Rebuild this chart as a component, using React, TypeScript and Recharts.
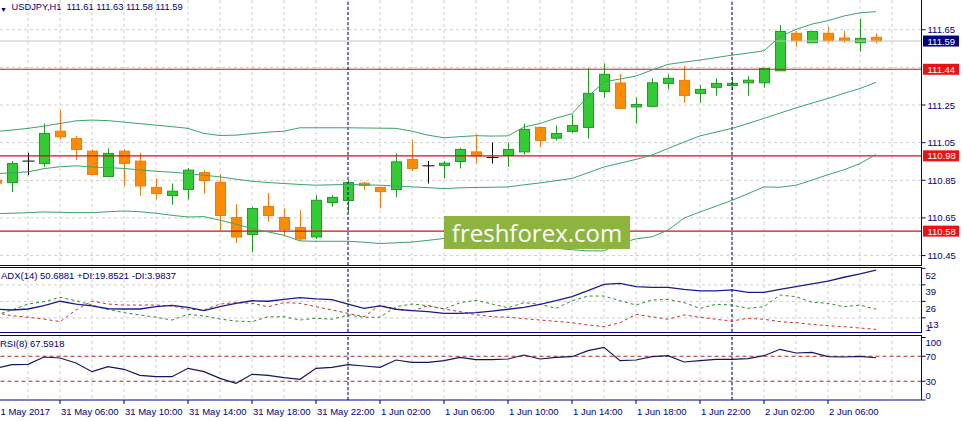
import { ComposedChart, Bar, Line, XAxis, YAxis, CartesianGrid, ReferenceLine } from "recharts";

// USDJPY H1, 31 May 02:00 .. 2 Jun 09:00 (one entry per hour)
const opens = [
  110.85, 110.838, 110.952, 110.939, 111.111, 111.072, 111.005, 110.87, 111.005, 110.952,
  110.812, 110.769, 110.801, 110.891, 110.838, 110.652, 110.562, 110.711, 110.652, 110.599,
  110.549, 110.732, 110.743, 110.835, 110.812, 110.801, 110.961, 110.927, 110.929, 110.95,
  111.001, 110.971, 110.982, 111.001, 111.131, 111.074, 111.11, 111.131, 111.322, 111.367,
  111.24, 111.243, 111.365, 111.381, 111.312, 111.344, 111.354, 111.368, 111.368, 111.432,
  111.631, 111.581, 111.631, 111.606, 111.581, 111.61,
];
const highs = [
  110.86, 110.952, 110.996, 111.152, 111.223, 111.085, 111.014, 111.019, 111.016, 110.996,
  110.86, 110.833, 110.916, 110.904, 110.882, 110.723, 110.709, 110.783, 110.7, 110.691,
  110.771, 110.771, 110.851, 110.842, 110.815, 110.993, 111.063, 110.953, 110.953, 111.022,
  111.094, 111.051, 111.051, 111.152, 111.134, 111.141, 111.2, 111.445, 111.471, 111.414,
  111.29, 111.392, 111.414, 111.457, 111.356, 111.392, 111.4, 111.404, 111.446, 111.675,
  111.643, 111.643, 111.666, 111.643, 111.707, 111.63,
];
const lows = [
  110.82, 110.788, 110.877, 110.921, 111.07, 110.957, 110.877, 110.867, 110.82, 110.767,
  110.748, 110.721, 110.748, 110.78, 110.585, 110.517, 110.469, 110.629, 110.553, 110.528,
  110.538, 110.709, 110.679, 110.801, 110.7, 110.759, 110.9, 110.833, 110.86, 110.913,
  110.939, 110.939, 110.921, 110.987, 111.028, 111.062, 111.102, 111.072, 111.29, 111.228,
  111.152, 111.239, 111.333, 111.262, 111.262, 111.299, 111.329, 111.299, 111.342, 111.432,
  111.56, 111.579, 111.581, 111.581, 111.533, 111.58,
];
const closes = [
  110.835, 110.939, 110.952, 111.099, 111.081, 111.014, 110.881, 110.993, 110.939, 110.82,
  110.78, 110.792, 110.904, 110.849, 110.663, 110.549, 110.7, 110.663, 110.588, 110.538,
  110.744, 110.759, 110.838, 110.822, 110.79, 110.948, 110.913, 110.927, 110.941, 111.014,
  110.98, 110.971, 111.014, 111.12, 111.062, 111.099, 111.141, 111.312, 111.413, 111.232,
  111.253, 111.368, 111.392, 111.301, 111.333, 111.365, 111.365, 111.382, 111.445, 111.641,
  111.591, 111.641, 111.591, 111.591, 111.604, 111.59,
];

const bbUpper = [
  111.109, 111.117, 111.126, 111.138, 111.152, 111.166, 111.17, 111.167, 111.159, 111.151,
  111.143, 111.135, 111.126, 111.099, 111.088, 111.09, 111.098, 111.106, 111.111, 111.129,
  111.129, 111.129, 111.129, 111.128, 111.127, 111.126, 111.111, 111.09, 111.076, 111.082,
  111.087, 111.085, 111.086, 111.133, 111.152, 111.18, 111.204, 111.294, 111.373, 111.388,
  111.404, 111.436, 111.466, 111.478, 111.489, 111.502, 111.515, 111.526, 111.538, 111.613,
  111.652, 111.68, 111.698, 111.723, 111.74, 111.746,
];
const bbMiddle = [
  110.885, 110.89, 110.895, 110.912, 110.922, 110.927, 110.921, 110.917, 110.913, 110.905,
  110.898, 110.893, 110.886, 110.877, 110.868, 110.856, 110.845, 110.838, 110.833, 110.828,
  110.824, 110.826, 110.828, 110.826, 110.824, 110.819, 110.815, 110.811, 110.806, 110.81,
  110.812, 110.813, 110.815, 110.826, 110.836, 110.848, 110.86, 110.89, 110.921, 110.941,
  110.961, 110.984, 111.019, 111.053, 111.086, 111.106, 111.126, 111.152, 111.179, 111.207,
  111.235, 111.26, 111.285, 111.312, 111.338, 111.37,
];
const bbLower = [
  110.673, 110.675, 110.678, 110.682, 110.68, 110.678, 110.678, 110.683, 110.687, 110.683,
  110.675, 110.664, 110.655, 110.657, 110.638, 110.617, 110.594, 110.576, 110.558, 110.528,
  110.526, 110.526, 110.526, 110.521, 110.514, 110.518, 110.522, 110.531, 110.541, 110.531,
  110.521, 110.51, 110.505, 110.5, 110.494, 110.489, 110.481, 110.475, 110.475, 110.515,
  110.539, 110.55, 110.585, 110.649, 110.682, 110.712, 110.744, 110.779, 110.815, 110.813,
  110.824, 110.851, 110.88, 110.906, 110.939, 110.987,
];

const adxValues = [
  19.8, 19.2, 20.0, 22.6, 26.1, 23.9, 22.4, 20.2, 20.0, 20.0,
  21.8, 22.9, 21.3, 18.7, 21.8, 24.5, 26.5, 26.1, 27.6, 28.9,
  27.9, 27.3, 23.9, 20.5, 22.4, 19.8, 18.7, 17.9, 16.6, 16.6,
  17.1, 18.4, 19.8, 21.3, 23.7, 26.5, 29.7, 34.4, 39.4, 40.2,
  37.6, 37.1, 37.1, 35.5, 34.2, 34.2, 35.0, 33.1, 33.1, 35.5,
  37.6, 39.7, 42.0, 45.0, 47.6, 50.69,
];
const plusDiValues = [
  15.3, 19.2, 23.9, 25.7, 29.2, 26.5, 23.1, 19.8, 17.1, 15.3,
  13.5, 11.3, 15.8, 14.5, 12.1, 10.5, 10.0, 13.9, 13.9, 11.3,
  12.7, 11.9, 15.3, 13.5, 13.5, 21.8, 23.9, 22.6, 20.0, 25.0,
  26.8, 23.9, 21.0, 25.0, 23.7, 20.5, 26.5, 30.2, 30.2, 26.5,
  23.1, 27.1, 27.6, 25.0, 20.5, 23.7, 23.1, 20.5, 21.8, 31.0,
  29.7, 25.3, 24.5, 21.8, 23.1, 19.85,
];
const minusDiValues = [
  17.1, 14.7, 13.5, 12.1, 10.0, 19.2, 26.3, 23.9, 23.1, 23.1,
  23.1, 22.4, 19.8, 19.2, 23.9, 25.0, 24.5, 21.8, 25.0, 24.5,
  21.8, 19.2, 16.6, 13.9, 23.1, 19.8, 18.4, 22.6, 20.0, 17.9,
  15.5, 13.9, 13.5, 12.4, 11.3, 10.3, 9.2, 7.4, 6.1, 9.2,
  15.8, 13.9, 11.9, 15.3, 13.5, 11.9, 10.5, 12.7, 11.9, 10.0,
  9.2, 7.9, 6.8, 6.1, 5.0, 3.98,
];
const rsiValues = [
  50.7, 56.5, 57.1, 68.8, 67.2, 59.2, 45.3, 53.3, 49.1, 39.5,
  37.3, 37.3, 50.7, 45.3, 34.7, 26.7, 41.1, 39.5, 35.7, 33.1,
  50.7, 52.3, 56.5, 54.4, 52.3, 64.0, 60.3, 60.3, 62.9, 68.3,
  64.5, 64.5, 65.6, 72.0, 65.6, 68.3, 69.3, 78.9, 84.3, 62.9,
  64.0, 69.3, 70.9, 60.8, 62.9, 65.1, 65.1, 66.1, 70.9, 81.1,
  75.2, 76.3, 69.3, 68.8, 69.9, 67.59,
];

const timeTicks = [0, 4, 8, 12, 16, 20, 24, 28, 32, 36, 40, 44, 48, 52];
const timeLabels = [
  "1 May 2017", "31 May 06:00", "31 May 10:00", "31 May 14:00", "31 May 18:00",
  "31 May 22:00", "1 Jun 02:00", "1 Jun 06:00", "1 Jun 10:00", "1 Jun 14:00",
  "1 Jun 18:00", "1 Jun 22:00", "2 Jun 02:00", "2 Jun 06:00",
];
const daySeparators = [22, 46];
const priceTicks = [111.65, 111.25, 111.05, 110.85, 110.65, 110.45];
const priceGrid = [111.65, 111.45, 111.25, 111.05, 110.85, 110.65, 110.45];
const levels = [111.44, 110.98, 110.58];
const lastPrice = 111.59;
const adxTicks = [52, 39, 26, 13];
const adxGrid = [39, 26, 13];
const rsiTicks = [100, 70, 30, 0];
const rsiLevels = [70, 30];

const rows = opens.map((o, i) => ({
  i,
  open: o,
  high: highs[i],
  low: lows[i],
  close: closes[i],
  range: [lows[i], highs[i]],
  upper: bbUpper[i],
  middle: bbMiddle[i],
  lower: bbLower[i],
  adx: adxValues[i],
  plusDi: plusDiValues[i],
  minusDi: minusDiValues[i],
  rsi: rsiValues[i],
}));

const W = 963;
const AXIS_W = 41.5;
const X_DOMAIN = [0.25, 57.84375];
const gridX = Array.from({ length: 28 }, (_, k) => 2 + 2 * k);

const NAVY = "#000080";
const FONT = "'Liberation Sans', Arial, sans-serif";
const GRID = "#cfcfcf";
const BAND = "#3ca36c";
const LEVEL_RED = "#c81616";

const Candle = (props: any) => {
  const { x, y, width, height, payload } = props;
  const top0 = Math.min(y, y + height);
  const h = Math.abs(height);
  const { open, close, high, low } = payload;
  const ppu = h / (high - low);
  const cx = Math.round(x + width / 2) + 0.5;
  const bodyTop = top0 + (high - Math.max(open, close)) * ppu;
  const bodyBot = top0 + (high - Math.min(open, close)) * ppu;
  if (open === close) {
    return (
      <g stroke="#000" strokeWidth={1}>
        <line x1={cx} x2={cx} y1={top0} y2={top0 + h} />
        <line x1={cx - 6} x2={cx + 6} y1={bodyTop} y2={bodyTop} />
      </g>
    );
  }
  const up = close > open;
  const edge = up ? "#229a22" : "#ef7a10";
  const fill = up ? "#32cd32" : "#ff8c00";
  return (
    <g>
      <line x1={cx} x2={cx} y1={top0} y2={top0 + h} stroke={edge} strokeWidth={1} />
      <rect x={cx - 5} y={bodyTop} width={10} height={Math.max(bodyBot - bodyTop, 1)} fill={fill} stroke={edge} strokeWidth={1} />
    </g>
  );
};

const PriceTag = (props: any) => {
  const { viewBox, text, bg } = props;
  if (!viewBox) return null;
  const left = viewBox.x + viewBox.width + 1.5;
  return (
    <g>
      <rect x={left} y={viewBox.y - 5.5} width={36} height={11} fill={bg} />
      <text x={left + 4.5} y={viewBox.y} dominantBaseline="central" fill="#fff" fontSize={9.5} fontFamily={FONT}>
        {text}
      </text>
    </g>
  );
};

const PriceTick = (props: any) => (
  <text x={927.5} y={props.y} dominantBaseline="central" fill={NAVY} fontSize={9.5} fontFamily={FONT}>
    {Number(props.payload.value).toFixed(2)}
  </text>
);

const AdxTick = (props: any) => {
  const v = props.payload.value;
  return (
    <g fill={NAVY} fontSize={9.5} fontFamily={FONT}>
      {v === 13 && (
        <text x={925.5} y={props.y + 9.5} dominantBaseline="central">1</text>
      )}
      <text x={v === 13 ? 928 : 925.5} y={props.y + 6.8} dominantBaseline="central">{v}</text>
    </g>
  );
};

const RsiTick = (props: any) => {
  const v = props.payload.value;
  const shift = v === 100 ? 4.5 : v === 0 ? -5 : 0;
  return (
    <text x={925.5} y={props.y + shift} dominantBaseline="central" fill={NAVY} fontSize={9.5} fontFamily={FONT}>
      {v}
    </text>
  );
};

const TimeTick = (props: any) => {
  const idx = timeTicks.indexOf(props.payload.value);
  const left = idx === 0 ? 0.5 : props.x + 1;
  return (
    <text x={left} y={76} dominantBaseline="central" fill={NAVY} fontSize={9.5} fontFamily={FONT}>
      {timeLabels[idx]}
    </text>
  );
};

const hline = (top: number) => (
  <div style={{ position: "absolute", left: 0, top, width: 922, height: 1, background: NAVY }} />
);

export default function App() {
  return (
    <div style={{ position: "relative", width: W, height: 421, background: "#fff", overflow: "hidden" }}>
      <style>{"body{margin:0}"}</style>

      <div style={{ position: "absolute", left: 0, top: 0 }}>
        <ComposedChart width={W} height={265} data={rows} margin={{ top: 0, right: 0, left: 0, bottom: 0 }}>
          <CartesianGrid stroke={GRID} strokeDasharray="3 3" verticalValues={gridX} horizontalValues={priceGrid} />
          <XAxis dataKey="i" type="number" domain={X_DOMAIN} allowDataOverflow hide />
          <YAxis
            orientation="right"
            width={AXIS_W}
            domain={[110.4, 111.808]}
            allowDataOverflow
            ticks={priceTicks}
            interval={0}
            tick={<PriceTick />}
            tickSize={4}
            tickLine={{ stroke: NAVY }}
            axisLine={{ stroke: NAVY }}
          />
          <ReferenceLine y={lastPrice} stroke="#c4c4c4" label={<PriceTag text={lastPrice.toFixed(2)} bg={NAVY} />} />
          {levels.map((lv) => (
            <ReferenceLine key={lv} y={lv} stroke={LEVEL_RED} strokeWidth={1.2} label={<PriceTag text={lv.toFixed(2)} bg="#ee1111" />} />
          ))}
          {daySeparators.map((d) => (
            <ReferenceLine key={d} x={d} stroke={NAVY} strokeDasharray="3 2" />
          ))}
          <Line dataKey="upper" stroke={BAND} strokeWidth={1} dot={false} isAnimationActive={false} />
          <Line dataKey="middle" stroke={BAND} strokeWidth={1} dot={false} isAnimationActive={false} />
          <Line dataKey="lower" stroke={BAND} strokeWidth={1} dot={false} isAnimationActive={false} />
          <Bar dataKey="range" barSize={11} shape={<Candle />} isAnimationActive={false} />
        </ComposedChart>
      </div>

      <div style={{ position: "absolute", left: 0, top: 267 }}>
        <ComposedChart width={W} height={65} data={rows} margin={{ top: 0, right: 0, left: 0, bottom: 0 }}>
          <CartesianGrid stroke={GRID} strokeDasharray="3 3" verticalValues={gridX} horizontalValues={adxGrid} />
          <XAxis dataKey="i" type="number" domain={X_DOMAIN} allowDataOverflow hide />
          <YAxis
            orientation="right"
            width={AXIS_W}
            domain={[1.88, 53.07]}
            allowDataOverflow
            ticks={adxTicks}
            interval={0}
            tick={<AdxTick />}
            tickSize={4}
            tickLine={{ stroke: NAVY }}
            axisLine={{ stroke: NAVY }}
          />
          {daySeparators.map((d) => (
            <ReferenceLine key={d} x={d} stroke={NAVY} strokeDasharray="3 2" />
          ))}
          <Line dataKey="plusDi" stroke="#2e8b2e" strokeDasharray="3 3" strokeWidth={1} dot={false} isAnimationActive={false} />
          <Line dataKey="minusDi" stroke="#c43228" strokeDasharray="3 3" strokeWidth={1} dot={false} isAnimationActive={false} />
          <Line dataKey="adx" stroke="#1c1c90" strokeWidth={1.3} dot={false} isAnimationActive={false} />
        </ComposedChart>
      </div>

      <div style={{ position: "absolute", left: 0, top: 335 }}>
        <ComposedChart width={W} height={86} data={rows} margin={{ top: 0, right: 0, left: 0, bottom: 0 }}>
          <CartesianGrid stroke={GRID} strokeDasharray="3 3" verticalValues={gridX} horizontal={false} />
          <XAxis
            dataKey="i"
            type="number"
            domain={X_DOMAIN}
            allowDataOverflow
            ticks={timeTicks}
            interval={0}
            height={21}
            tick={<TimeTick />}
            tickSize={4}
            tickLine={{ stroke: NAVY }}
            axisLine={{ stroke: NAVY }}
          />
          <YAxis
            orientation="right"
            width={AXIS_W}
            domain={[0, 104]}
            allowDataOverflow
            ticks={rsiTicks}
            interval={0}
            tick={<RsiTick />}
            tickSize={4}
            tickLine={{ stroke: NAVY }}
            axisLine={{ stroke: NAVY }}
          />
          {rsiLevels.map((lv) => (
            <ReferenceLine key={lv} y={lv} stroke="#b22a2a" strokeDasharray="4 3" />
          ))}
          {daySeparators.map((d) => (
            <ReferenceLine key={d} x={d} stroke={NAVY} strokeDasharray="3 2" />
          ))}
          <Line dataKey="rsi" stroke="#16165e" strokeWidth={1.2} dot={false} isAnimationActive={false} />
        </ComposedChart>
      </div>

      {hline(265)}
      {hline(267)}
      {hline(332)}
      {hline(335)}

      <div style={{ position: "absolute", left: 0, top: 1, fontFamily: FONT, color: NAVY, whiteSpace: "pre", lineHeight: "12px" }}>
        <span style={{ fontSize: 7 }}>▼</span>
        <span style={{ position: "absolute", left: 11.5, top: 0, fontSize: 9.3 }}>USDJPY,H1  111.61 111.63 111.58 111.59</span>
      </div>
      <div style={{ position: "absolute", left: 1, top: 270, fontFamily: FONT, color: NAVY, fontSize: 9.5, whiteSpace: "pre" }}>
        ADX(14) 50.6881 +DI:19.8521 -DI:3.9837
      </div>
      <div style={{ position: "absolute", left: 0, top: 338, fontFamily: FONT, color: NAVY, fontSize: 9.5, whiteSpace: "pre" }}>
        RSI(8) 67.5918
      </div>

      <div
        style={{
          position: "absolute",
          left: 444,
          top: 216,
          width: 186,
          height: 33,
          background: "#8cb43f",
          color: "#fff",
          fontFamily: "'Open Sans', sans-serif",
          fontSize: 24,
          lineHeight: "33px",
          textAlign: "center",
        }}
      >
        freshforex.com
      </div>
    </div>
  );
}
